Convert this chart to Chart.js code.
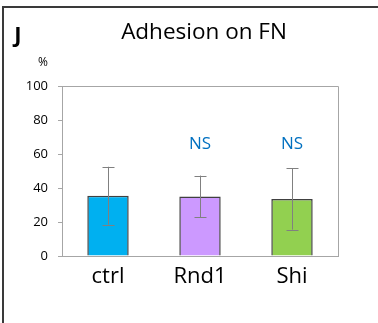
<html>
<head>
<style>
  body { margin: 0; background: #fff; }
  #wrap { width: 378px; height: 323px; }
</style>
</head>
<body>
<div id="wrap">
  <canvas id="myChart" width="378" height="323"></canvas>
</div>

<script src="https://cdn.jsdelivr.net/npm/chart.js"></script>

<script>
  const labels = ['ctrl', 'Rnd1', 'Shi'];
  const means = [35.5, 35, 33.5];
  const errs = [17, 12.3, 18];
  const sigLabels = ['', 'NS', 'NS'];
  const barColors = ['#00B0F0', '#CC99FF', '#92D050'];
  const yTicks = [0, 20, 40, 60, 80, 100];

  const FONT = '"Open Sans", sans-serif';

  // error bars, NS marks, frame, panel letter
  const extras = {
    id: 'extras',
    afterDatasetsDraw(chart) {
      const ctx = chart.ctx;
      const y = chart.scales.y;
      const a = chart.chartArea;
      const meta = chart.getDatasetMeta(0);

      ctx.save();
      // plot box top/right
      ctx.strokeStyle = '#A6A6A6';
      ctx.lineWidth = 1;
      ctx.beginPath();
      ctx.moveTo(a.left, a.top + 0.5);
      ctx.lineTo(a.right + 0.5, a.top + 0.5);
      ctx.lineTo(a.right + 0.5, a.bottom);
      ctx.stroke();

      // error bars
      ctx.strokeStyle = '#808080';
      meta.data.forEach((bar, i) => {
        const x = Math.round(bar.x) + 0.5;
        const hi = y.getPixelForValue(means[i] + errs[i]);
        const lo = y.getPixelForValue(means[i] - errs[i]);
        ctx.beginPath();
        ctx.moveTo(x, hi); ctx.lineTo(x, lo);
        ctx.moveTo(x - 6, Math.round(hi) + 0.5); ctx.lineTo(x + 6, Math.round(hi) + 0.5);
        ctx.moveTo(x - 6, Math.round(lo) + 0.5); ctx.lineTo(x + 6, Math.round(lo) + 0.5);
        ctx.stroke();
      });

      // NS labels
      ctx.fillStyle = '#0070C0';
      ctx.font = '17px ' + FONT;
      ctx.textAlign = 'center';
      ctx.textBaseline = 'middle';
      meta.data.forEach((bar, i) => {
        if (sigLabels[i]) ctx.fillText(sigLabels[i], bar.x, y.getPixelForValue(66));
      });

      // title, panel letter, unit
      ctx.fillStyle = '#000';
      ctx.font = '22.5px ' + FONT;
      ctx.fillText('Adhesion on FN', 204, 33);
      ctx.font = 'bold 22px ' + FONT;
      ctx.fillText('J', 18, 36);
      ctx.font = '12px ' + FONT;
      ctx.fillText('%', 43, 63);

      // outer frame (top and left)
      ctx.strokeStyle = '#3A3A3A';
      ctx.lineWidth = 2;
      ctx.beginPath();
      ctx.moveTo(3, 323);
      ctx.lineTo(3, 7);
      ctx.lineTo(378, 7);
      ctx.stroke();
      ctx.restore();
    }
  };

  const data = {
    labels: labels,
    datasets: [{
      data: means,
      backgroundColor: barColors,
      borderColor: '#404040',
      borderWidth: 1.5,
      categoryPercentage: 1,
      barPercentage: 0.45
    }]
  };

  const config = {
    type: 'bar',
    data: data,
    options: {
      responsive: false,
      animation: false,
      layout: { padding: { left: 0, top: 86, right: 40, bottom: 0 } },
      plugins: { legend: { display: false }, tooltip: { enabled: false } },
      scales: {
        x: {
          grid: { display: false },
          border: { color: '#A6A6A6', width: 1 },
          ticks: { color: '#000', font: { family: FONT, size: 22 }, padding: 0 },
          afterFit: s => { s.height = 67; }
        },
        y: {
          min: 0,
          max: 100,
          afterBuildTicks: s => { s.ticks = yTicks.map(v => ({ value: v })); },
          grid: { drawOnChartArea: false, color: '#A6A6A6', tickLength: 4 },
          border: { color: '#A6A6A6', width: 1 },
          ticks: { color: '#000', font: { family: FONT, size: 13 }, padding: 10 },
          afterFit: s => { s.width = 62; }
        }
      }
    },
    plugins: [extras]
  };

  const myChart = new Chart(document.getElementById('myChart'), config);
</script>
</body>
</html>
